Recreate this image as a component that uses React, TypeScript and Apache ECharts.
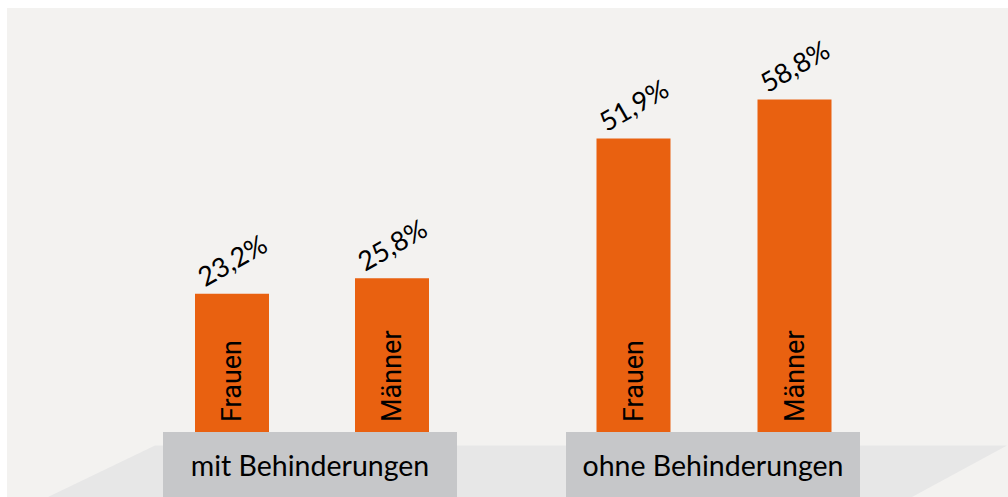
import React, { useEffect, useRef } from "react";
import * as echarts from "echarts";

const categories = ["Frauen", "Männer"];
const groups = ["mit Behinderungen", "ohne Behinderungen"];
const mitValues = [23.2, 25.8];
const ohneValues = [51.9, 58.8];

const ORANGE = "#E96110";
const BOX = "#C6C7C9";
const BG = "#F3F2F0";
const FLOOR = "#E7E7E7";

const fmt = (v: number) => v.toFixed(1).replace(".", ",") + "%";

export default function App() {
  const ref = useRef<HTMLDivElement>(null);
  useEffect(() => {
    document.body.style.margin = "0";
    document.body.style.overflow = "hidden";
    const chart = echarts.init(ref.current!, null, { renderer: "svg" });

    const valueLabel = {
      show: true,
      position: "top",
      distance: 34,
      rotate: 30,
      align: "center",
      verticalAlign: "middle",
      fontFamily: "Lato",
      fontSize: 27,
      color: "#000",
      formatter: (p: any) => fmt(p.value),
    };
    const nameLabel = {
      show: true,
      position: "insideBottom",
      distance: 10,
      rotate: 90,
      align: "left",
      verticalAlign: "middle",
      fontFamily: "Roboto",
      fontSize: 27,
      color: "#000",
      formatter: (p: any) => p.name,
    };

    const makeBars = (data: number[], idx: number) => [
      {
        type: "bar",
        xAxisIndex: idx,
        yAxisIndex: idx,
        data,
        barWidth: 74,
        itemStyle: { color: ORANGE },
        label: valueLabel,
      },
      {
        type: "bar",
        xAxisIndex: idx,
        yAxisIndex: idx,
        data,
        barWidth: 74,
        barGap: "-100%",
        itemStyle: { color: "transparent" },
        label: nameLabel,
        z: 3,
      },
    ];

    const boxes = [
      { x: 163, w: 294 },
      { x: 566, w: 294 },
    ];

    chart.setOption({
      animation: false,
      backgroundColor: "#ffffff",
      grid: [
        { left: 152, width: 320, top: 432 - 60 * 5.96, bottom: 65 },
        { left: 553, width: 322, top: 432 - 60 * 5.655, bottom: 65 },
      ],
      xAxis: [
        { type: "category", data: categories, gridIndex: 0, show: false },
        { type: "category", data: categories, gridIndex: 1, show: false },
      ],
      yAxis: [
        { type: "value", min: 0, max: 60, gridIndex: 0, show: false },
        { type: "value", min: 0, max: 60, gridIndex: 1, show: false },
      ],
      graphic: [
        {
          type: "rect",
          z: -10,
          shape: { x: 7, y: 8, width: 1001, height: 489 },
          style: { fill: BG },
          silent: true,
        },
        {
          type: "polygon",
          z: -9,
          shape: {
            points: [
              [48, 497],
              [155, 445.5],
              [1007, 445.5],
              [912, 497],
            ],
          },
          style: { fill: FLOOR },
          silent: true,
        },
        ...boxes.map((b, i) => ({
          type: "group",
          z: 10,
          children: [
            {
              type: "rect",
              shape: { x: b.x, y: 432, width: b.w, height: 65 },
              style: { fill: BOX },
            },
            {
              type: "text",
              x: b.x + b.w / 2,
              y: 465,
              style: {
                text: groups[i],
                fill: "#000",
                font: "28.5px Lato",
                align: "center",
                verticalAlign: "middle",
              },
            },
          ],
        })),
      ],
      series: [...makeBars(mitValues, 0), ...makeBars(ohneValues, 1)],
    });
    return () => chart.dispose();
  }, []);
  return <div ref={ref} style={{ width: 1008, height: 497 }} />;
}
